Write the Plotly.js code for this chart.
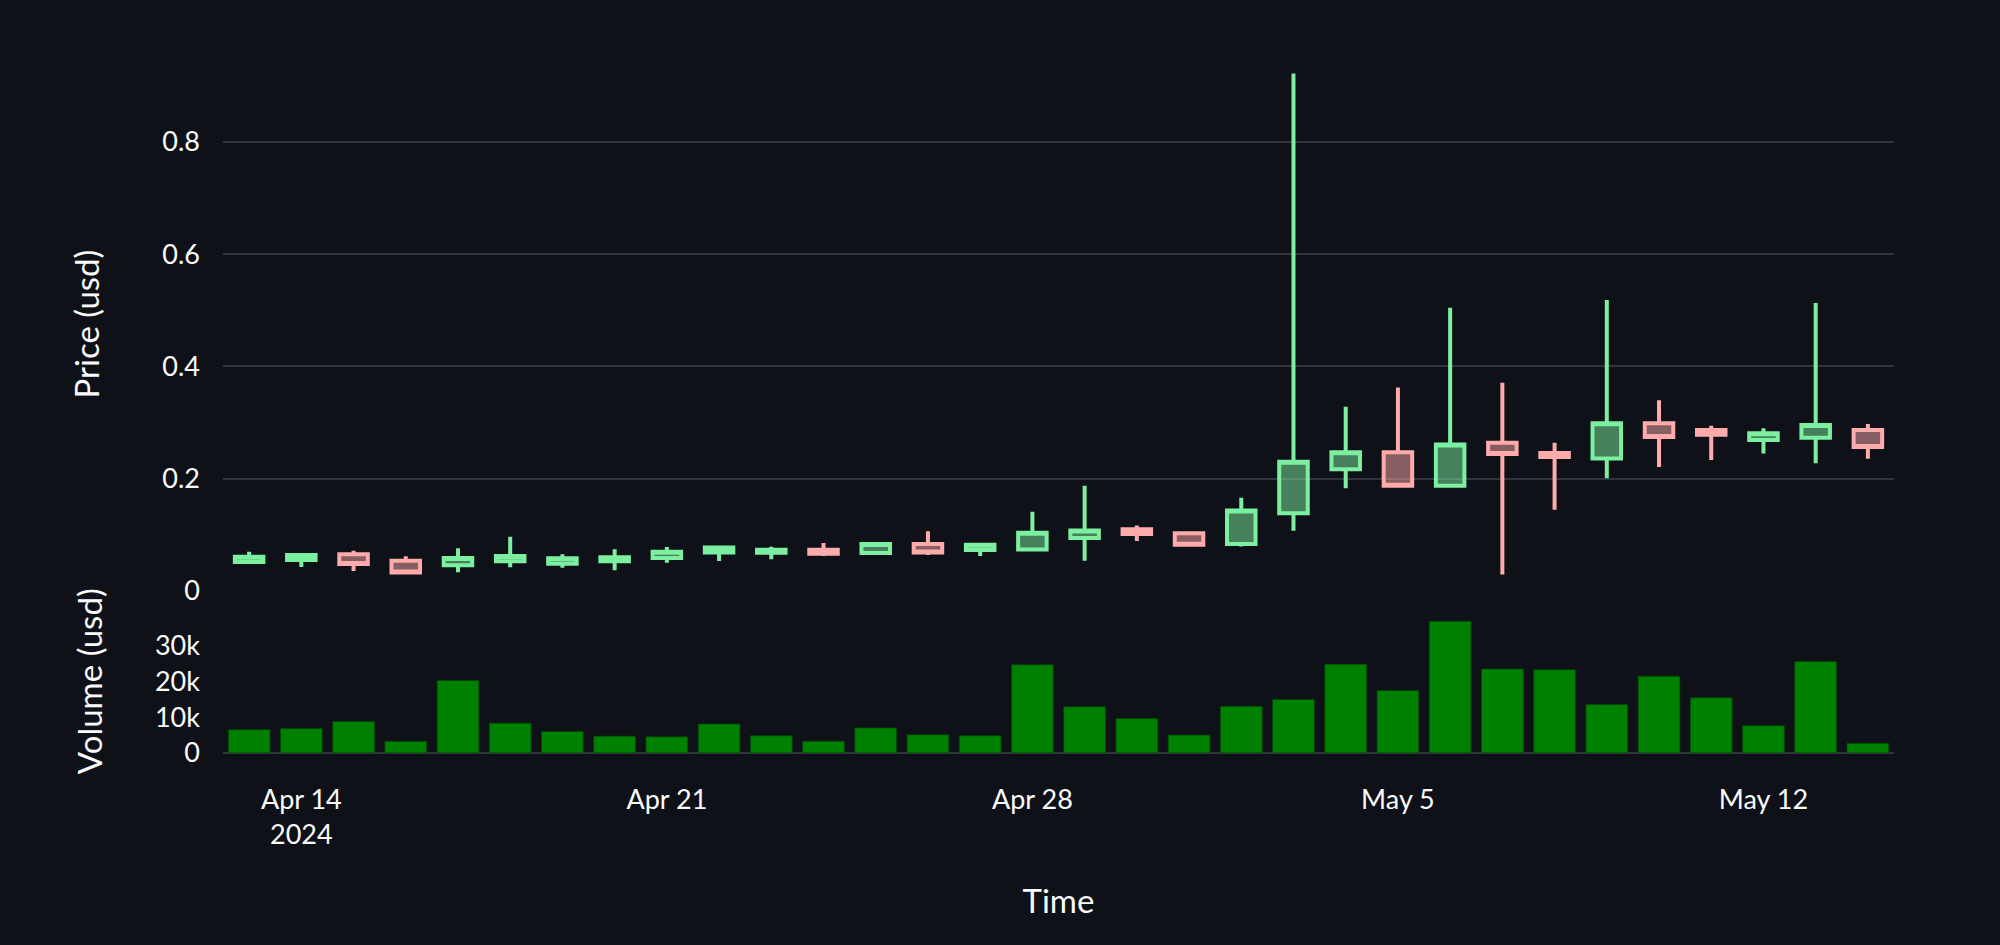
<!DOCTYPE html>
<html>
<head>
<meta charset="utf-8">
<script src="https://cdn.plot.ly/plotly-3.0.1.min.js"></script>
<style>
  html, body { margin: 0; padding: 0; background: #0e1117; }
  #chart { width: 2000px; height: 945px; }
</style>
</head>
<body>
<div id="chart"></div>
<script>
const dates = ['2024-04-13','2024-04-14','2024-04-15','2024-04-16','2024-04-17','2024-04-18','2024-04-19','2024-04-20',
  '2024-04-21','2024-04-22','2024-04-23','2024-04-24','2024-04-25','2024-04-26','2024-04-27','2024-04-28',
  '2024-04-29','2024-04-30','2024-05-01','2024-05-02','2024-05-03','2024-05-04','2024-05-05','2024-05-06',
  '2024-05-07','2024-05-08','2024-05-09','2024-05-10','2024-05-11','2024-05-12','2024-05-13','2024-05-14'];
const openP  = [0.0516,0.0552,0.0653,0.0540,0.0457,0.0528,0.0487,0.0528,0.0588,0.0683,0.0680,0.0734,0.0675,0.0836,0.0728,0.0740,
  0.0943,0.1099,0.1027,0.0836,0.1382,0.2168,0.2470,0.1872,0.2639,0.2457,0.2360,0.2985,0.2866,0.2688,0.2730,0.2866];
const highP  = [0.0700,0.0645,0.0718,0.0617,0.0760,0.0967,0.0653,0.0742,0.0783,0.0775,0.0788,0.0854,0.0872,0.1063,0.0826,0.1409,
  0.1875,0.1164,0.1030,0.1660,0.9218,0.3280,0.3626,0.5046,0.3707,0.2639,0.5180,0.3395,0.2944,0.2900,0.5128,0.2973];
const lowP   = [0.0510,0.0427,0.0356,0.0326,0.0332,0.0421,0.0415,0.0368,0.0504,0.0534,0.0567,0.0621,0.0672,0.0639,0.0621,0.0735,
  0.0537,0.0890,0.0820,0.0794,0.1074,0.1828,0.1868,0.1868,0.0295,0.1445,0.2007,0.2208,0.2332,0.2450,0.2273,0.2356];
const closeP = [0.0611,0.0641,0.0480,0.0330,0.0588,0.0623,0.0582,0.0599,0.0700,0.0772,0.0734,0.0663,0.0836,0.0687,0.0824,0.1039,
  0.1075,0.1015,0.0824,0.1433,0.2300,0.2470,0.1872,0.2608,0.2438,0.2388,0.2985,0.2742,0.2783,0.2807,0.2955,0.2564];
const volume = [6500,6800,8800,3250,20200,8300,6000,4700,4500,8100,4800,3300,7000,5100,4800,24600,
  12900,9600,5000,13000,14900,24700,17400,36700,23400,23200,13500,21400,15400,7600,25500,2700];

const priceTicks = [0, 0.2, 0.4, 0.6, 0.8];
const priceTickText = ['0', '0.2', '0.4', '0.6', '0.8'];
const volTicks = [0, 10000, 20000, 30000];
const volTickText = ['0', '10k', '20k', '30k'];

const FONT = '"Source Sans Pro", Lato, "Noto Sans", sans-serif';
const TXT = '#fafafa';
const GRID = '#31333f';

const candle = {
  type: 'candlestick',
  x: dates, open: openP, high: highP, low: lowP, close: closeP,
  xaxis: 'x', yaxis: 'y',
  increasing: { line: { color: '#7defa1', width: 4 } },
  decreasing: { line: { color: '#ffabab', width: 4 } },
  showlegend: false
};
const bars = {
  type: 'bar',
  x: dates, y: volume,
  xaxis: 'x', yaxis: 'y2',
  marker: { color: 'green', line: { color: 'rgba(0,70,0,0.8)', width: 1 } },
  showlegend: false
};

const layout = {
  width: 2000, height: 945,
  paper_bgcolor: '#0e1117', plot_bgcolor: '#0e1117',
  font: { family: FONT, color: TXT, size: 27 },
  margin: { l: 223, r: 106, t: 57, b: 192 },
  showlegend: false,
  boxgap: 0.22,
  xaxis: {
    anchor: 'y2',
    type: 'date',
    range: ['2024-04-12 12:00', '2024-05-14 12:00'],
    rangeslider: { visible: false },
    showgrid: false, zeroline: false, showline: false,
    ticks: '',
    ticklabelstandoff: 28,
    tickfont: { size: 27, color: TXT, family: FONT },
    title: { text: 'Time', standoff: 40, font: { size: 33, color: TXT, family: FONT } }
  },
  yaxis: {
    domain: [0.2328, 1],
    range: [0, 0.951],
    tickvals: priceTicks,
    ticktext: priceTickText,
    showgrid: true, gridcolor: GRID, gridwidth: 2,
    zeroline: false, showline: false, ticks: '',
    ticklabelstandoff: 22,
    tickfont: { size: 27, color: TXT, family: FONT },
    title: { text: 'Price (usd)', standoff: 52, font: { size: 33, color: TXT, family: FONT } }
  },
  yaxis2: {
    domain: [0, 0.2063],
    range: [0, 40000],
    tickvals: volTicks,
    ticktext: volTickText,
    showgrid: false, zeroline: true, zerolinecolor: GRID, zerolinewidth: 2,
    showline: false, ticks: '',
    ticklabelstandoff: 22,
    tickfont: { size: 27, color: TXT, family: FONT },
    title: { text: 'Volume (usd)', standoff: 42, font: { size: 33, color: TXT, family: FONT } }
  }
};

Plotly.newPlot('chart', [candle, bars], layout, { displayModeBar: false, staticPlot: true });
</script>
</body>
</html>
